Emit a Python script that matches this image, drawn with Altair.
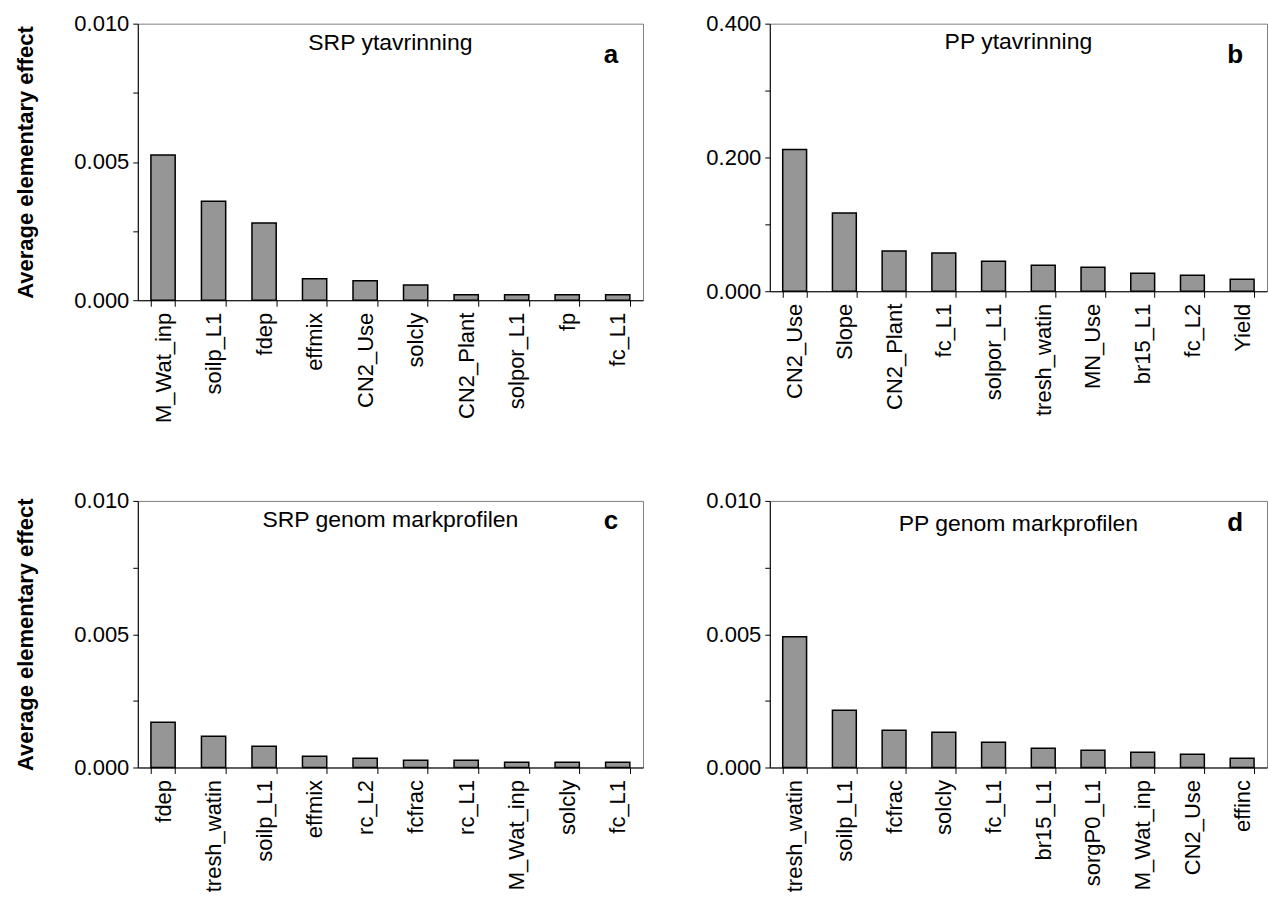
import altair as alt
import pandas as pd

# Parameter names and mean elementary effects, one list pair per panel
names_a = ["M_Wat_inp", "soilp_L1", "fdep", "effmix", "CN2_Use", "solcly",
           "CN2_Plant", "solpor_L1", "fp", "fc_L1"]
vals_a = [0.00525, 0.00358, 0.00279, 0.00078, 0.00070, 0.00055,
          0.00020, 0.00020, 0.00020, 0.00020]

names_b = ["CN2_Use", "Slope", "CN2_Plant", "fc_L1", "solpor_L1", "tresh_watin",
           "MN_Use", "br15_L1", "fc_L2", "Yield"]
vals_b = [0.212, 0.117, 0.060, 0.057, 0.045, 0.039, 0.036, 0.027, 0.024, 0.018]

names_c = ["fdep", "tresh_watin", "soilp_L1", "effmix", "rc_L2", "fcfrac",
           "rc_L1", "M_Wat_inp", "solcly", "fc_L1"]
vals_c = [0.00170, 0.00117, 0.00080, 0.00042, 0.00035, 0.00027,
          0.00027, 0.00020, 0.00020, 0.00020]

names_d = ["tresh_watin", "soilp_L1", "fcfrac", "solcly", "fc_L1", "br15_L1",
           "sorgP0_L1", "M_Wat_inp", "CN2_Use", "effinc"]
vals_d = [0.00490, 0.00215, 0.00140, 0.00132, 0.00095, 0.00072,
          0.00065, 0.00057, 0.00050, 0.00035]

FONT = "Liberation Sans"
W_LEFT = 506
W_RIGHT = 498


def panel(names, vals, ymax, title, letter, width, height, ytitle, title_dy, letter_dy):
    df = pd.DataFrame({"param": names, "effect": vals})
    yvals = [ymax * i / 4 for i in range(5)]
    label_expr = (
        f"round(datum.value*4/{ymax}) % 2 == 0 ? format(datum.value, '.3f') : ''"
    )
    yaxis_kwargs = dict(
        values=yvals,
        labelExpr=label_expr,
        grid=False,
        domainColor="black",
        tickColor="black",
        tickSize=5,
        labelPadding=4,
        labelFontSize=22,
        labelFont=FONT,
        labelColor="black",
    )
    if ytitle:
        yaxis_kwargs.update(
            title="Average elementary effect",
            titleFont=FONT,
            titleFontSize=22,
            titleFontWeight="bold",
            titleColor="black",
            titlePadding=36,
        )
    else:
        yaxis_kwargs.update(title=None)

    bars = alt.Chart(df).mark_bar(
        color="#969696", stroke="black", strokeWidth=1.5
    ).encode(
        x=alt.X(
            "param:N",
            sort=names,
            scale=alt.Scale(paddingInner=0.52, paddingOuter=0.26),
            axis=alt.Axis(
                title=None,
                labelAngle=-90,
                tickBand="extent",
                grid=False,
                domainColor="black",
                tickColor="black",
                tickSize=6,
                labelPadding=6,
                labelFontSize=22,
                labelFont=FONT,
                labelColor="black",
            ),
        ),
        y=alt.Y(
            "effect:Q",
            scale=alt.Scale(domain=[0, ymax], nice=False),
            axis=alt.Axis(**yaxis_kwargs),
        ),
    )

    heading = alt.Chart(pd.DataFrame({"t": [title]})).mark_text(
        font=FONT, fontSize=23, color="black", align="center", baseline="alphabetic"
    ).encode(text="t:N", x=alt.value(width / 2), y=alt.value(title_dy))

    tag = alt.Chart(pd.DataFrame({"t": [letter]})).mark_text(
        font=FONT, fontSize=26, fontWeight="bold", color="black",
        align="center", baseline="alphabetic"
    ).encode(text="t:N", x=alt.value(width - 32), y=alt.value(letter_dy))

    return alt.layer(bars, heading, tag).properties(width=width, height=height)


pa = panel(names_a, vals_a, 0.010, "SRP ytavrinning", "a", W_LEFT, 277, True, 26, 39)
pb = panel(names_b, vals_b, 0.400, "PP ytavrinning", "b", W_RIGHT, 268, False, 25, 39)
pc = panel(names_c, vals_c, 0.010, "SRP genom markprofilen", "c", W_LEFT, 267, True, 26, 28)
pd_ = panel(names_d, vals_d, 0.010, "PP genom markprofilen", "d", W_RIGHT, 267, False, 30, 30)

chart = alt.vconcat(
    alt.hconcat(pa, pb, spacing=61),
    alt.hconcat(pc, pd_, spacing=61),
    spacing=66,
).properties(
    padding={"left": 14, "top": 11, "right": 0, "bottom": 0}
).configure_view(
    stroke="#808080", strokeWidth=1
)

chart.save("out.html", embed_options={"renderer": "svg", "actions": False})
